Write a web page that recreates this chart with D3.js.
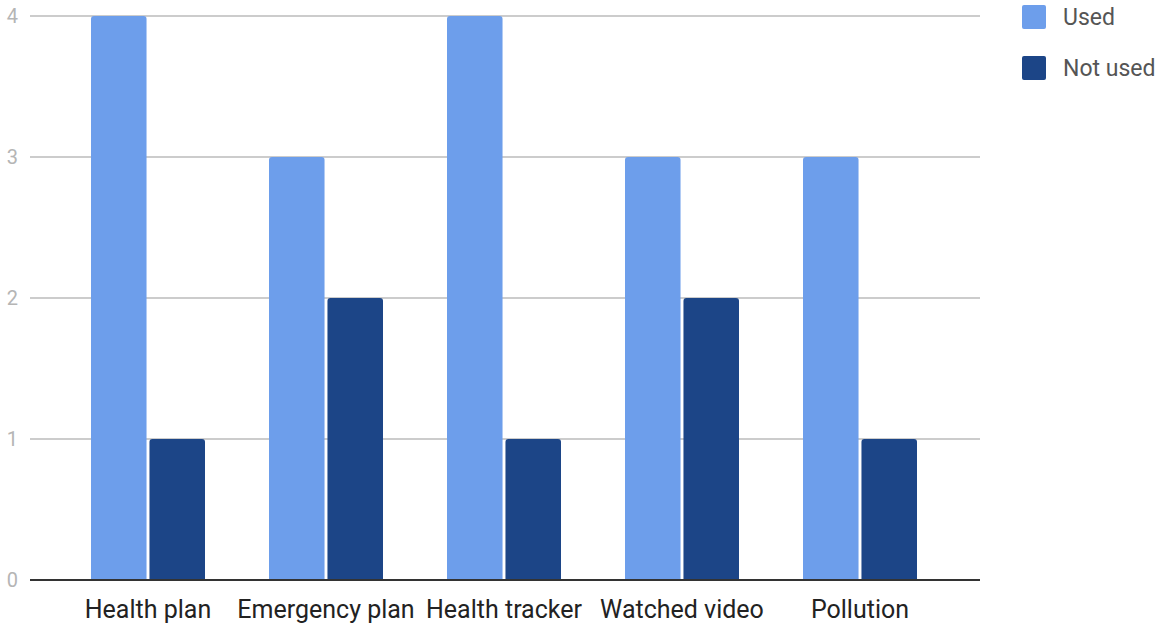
<!DOCTYPE html>
<html>
<head>
<meta charset="utf-8">
<script src="https://cdn.jsdelivr.net/npm/d3@7"></script>
<style>
  html, body { margin: 0; padding: 0; background: #fff; }
  svg { display: block; font-family: Roboto, "Noto Sans", sans-serif; }
</style>
</head>
<body>
<svg id="chart" width="1155" height="624"></svg>
<script>
// Survey results: how many respondents used each feature
const categories = ["Health plan", "Emergency plan", "Health tracker", "Watched video", "Pollution"];
const seriesNames = ["Used", "Not used"];
const usedValues = [4, 3, 4, 3, 3];
const notUsedValues = [1, 2, 1, 2, 1];
const yTicks = [0, 1, 2, 3, 4];
const colors = ["#6d9eeb", "#1c4587"];

const svg = d3.select("#chart");

const plot = { left: 30, right: 980, top: 16, bottom: 580 };

const y = d3.scaleLinear().domain([0, 4]).range([plot.bottom, plot.top]);
const x0 = d3.scaleBand().domain(categories).range([59, 949]).padding(0);
const groupWidth = 114;
const x1 = d3.scaleBand().domain(seriesNames).range([0, groupWidth]).paddingInner(0.05);

const rows = categories.map((c, i) => ({
  category: c,
  values: [
    { series: seriesNames[0], value: usedValues[i] },
    { series: seriesNames[1], value: notUsedValues[i] }
  ]
}));

// Horizontal gridlines
svg.append("g")
  .selectAll("line")
  .data(yTicks.filter(t => t !== 0))
  .join("line")
  .attr("x1", plot.left).attr("x2", plot.right)
  .attr("y1", d => y(d)).attr("y2", d => y(d))
  .attr("stroke", "#cccccc").attr("stroke-width", 2);

// Y-axis tick labels
svg.append("g")
  .selectAll("text")
  .data(yTicks)
  .join("text")
  .attr("x", 18)
  .attr("y", d => y(d))
  .attr("dy", "0.35em")
  .attr("text-anchor", "end")
  .attr("font-size", 20)
  .attr("fill", "#b5b5b5")
  .text(d => d);

// Rounded-top bar path
function barPath(x, yTop, w, h, r) {
  r = Math.min(r, h, w / 2);
  return `M${x},${yTop + h}V${yTop + r}Q${x},${yTop} ${x + r},${yTop}` +
         `H${x + w - r}Q${x + w},${yTop} ${x + w},${yTop + r}V${yTop + h}Z`;
}

// Bars
svg.append("g")
  .selectAll("g")
  .data(rows)
  .join("g")
  .attr("transform", d => `translate(${x0(d.category) + x0.bandwidth() / 2 - groupWidth / 2},0)`)
  .selectAll("path")
  .data(d => d.values)
  .join("path")
  .attr("d", d => barPath(x1(d.series), y(d.value), x1.bandwidth(), y(0) - y(d.value), 3))
  .attr("fill", (d, i) => colors[i]);

// Baseline
svg.append("line")
  .attr("x1", plot.left).attr("x2", plot.right)
  .attr("y1", y(0)).attr("y2", y(0))
  .attr("stroke", "#333333").attr("stroke-width", 2);

// Category labels
svg.append("g")
  .selectAll("text")
  .data(categories)
  .join("text")
  .attr("x", d => x0(d) + x0.bandwidth() / 2)
  .attr("y", 618)
  .attr("text-anchor", "middle")
  .attr("font-size", 25)
  .attr("fill", "#222222")
  .text(d => d);

// Legend
const legend = svg.append("g")
  .selectAll("g")
  .data(seriesNames)
  .join("g")
  .attr("transform", (d, i) => `translate(1022,${5 + i * 51})`);

legend.append("rect")
  .attr("width", 24).attr("height", 24)
  .attr("rx", 2)
  .attr("fill", (d, i) => colors[i]);

legend.append("text")
  .attr("x", 41)
  .attr("y", 12)
  .attr("dy", "0.35em")
  .attr("font-size", 23)
  .attr("fill", "#555555")
  .text(d => d);
</script>
</body>
</html>
